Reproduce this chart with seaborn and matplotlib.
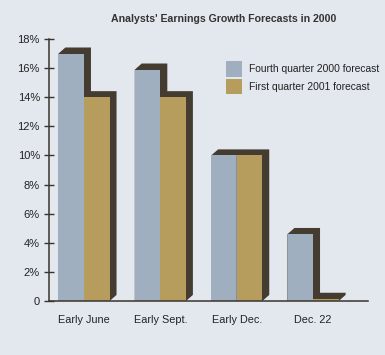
import numpy as np
import pandas as pd
import seaborn as sns
import matplotlib.pyplot as plt
import matplotlib.patheffects as pe
from matplotlib.colors import to_rgba
from matplotlib.path import Path
from matplotlib.transforms import IdentityTransform
from matplotlib.font_manager import fontManager

periods = ['Early June', 'Early Sept.', 'Early Dec.', 'Dec. 22']
q4_2000 = [17.0, 15.9, 10.0, 4.6]
q1_2001 = [14.0, 14.0, 10.0, 0.15]
series_names = ['Fourth quarter 2000 forecast', 'First quarter 2001 forecast']
ytick_vals = [0, 2, 4, 6, 8, 10, 12, 14, 16, 18]
ytick_labels = ['0', '2%', '4%', '6%', '8%', '10%', '12%', '14%', '16%', '18%']

bg = '#e3e7ee'
ink = '#3a342c'


class Extrude(pe.AbstractPathEffect):
    # dark 3D block sitting behind each bar, pushed up and to the right
    def __init__(self, dx=5, dy=4.4, color='#443c30'):
        super().__init__()
        self.dx, self.dy, self.color = dx, dy, to_rgba(color)

    def draw_path(self, renderer, gc, tpath, affine, rgbFace=None):
        v = affine.transform(tpath.vertices)
        x0, y0 = v.min(axis=0)
        x1, y1 = v.max(axis=0)
        dx = renderer.points_to_pixels(self.dx)
        dy = renderer.points_to_pixels(self.dy)
        hexa = np.array([[x0, y0], [x1, y0], [x1 + dx, y0 + dy], [x1 + dx, y1 + dy],
                         [x0 + dx, y1 + dy], [x0, y1], [x0, y0]])
        gc0 = renderer.new_gc()
        gc0.copy_properties(gc)
        gc0.set_linewidth(0)
        renderer.draw_path(gc0, Path(hexa, closed=True), IdentityTransform(), self.color)
        gc0.restore()


df = pd.DataFrame({
    'period': periods * 2,
    'value': q4_2000 + q1_2001,
    'series': [series_names[0]] * 4 + [series_names[1]] * 4,
})

sns.set_style('white')
names = {f.name for f in fontManager.ttflist}
fam = 'Liberation Sans Narrow' if 'Liberation Sans Narrow' in names else 'Liberation Sans'
plt.rcParams['font.family'] = [fam, 'DejaVu Sans']

fig = plt.figure(figsize=(3.85, 3.55), dpi=100, facecolor=bg)
ax = fig.add_axes([0.127, 0.152, 0.829, 0.738], facecolor=bg)

sns.barplot(data=df, x='period', y='value', hue='series', order=periods,
            hue_order=series_names, palette=['#a0afbf', '#b69d5e'],
            saturation=1, width=0.67, gap=0, ax=ax, errorbar=None)

for p in ax.patches:
    p.set_path_effects([Extrude(), pe.Normal()])
    p.set_linewidth(0)

ax.set_ylim(0, 18)
ax.set_xlim(-0.46, 3.72)
ax.set_yticks(ytick_vals)
ax.set_yticklabels(ytick_labels)
ax.set_xlabel('')
ax.set_ylabel('')
ax.tick_params(axis='y', direction='inout', length=7, width=1, color=ink,
               labelsize=8, labelcolor='#222222', pad=3, left=True)
ax.tick_params(axis='x', length=0, labelsize=7.8, labelcolor='#222222', pad=10)
sns.despine(ax=ax)
for s in ['left', 'bottom']:
    ax.spines[s].set_color(ink)
    ax.spines[s].set_linewidth(1.1)
ax.spines['bottom'].set_zorder(5)

leg = ax.legend(loc='upper left', bbox_to_anchor=(0.555, 0.915), frameon=False,
                fontsize=7.4, handlelength=1.6, handleheight=1.9, handletextpad=0.6,
                labelspacing=0.25, borderaxespad=0, borderpad=0)
for t in leg.get_texts():
    t.set_color('#222222')
for h in leg.legend_handles:
    h.set_path_effects([])

fig.text(0.582, 0.946, "Analysts' Earnings Growth Forecasts in 2000", ha='center',
         va='center', fontsize=7.6, fontweight='bold', color='#333333')

plt.savefig('out.png', dpi=100, facecolor=bg)
